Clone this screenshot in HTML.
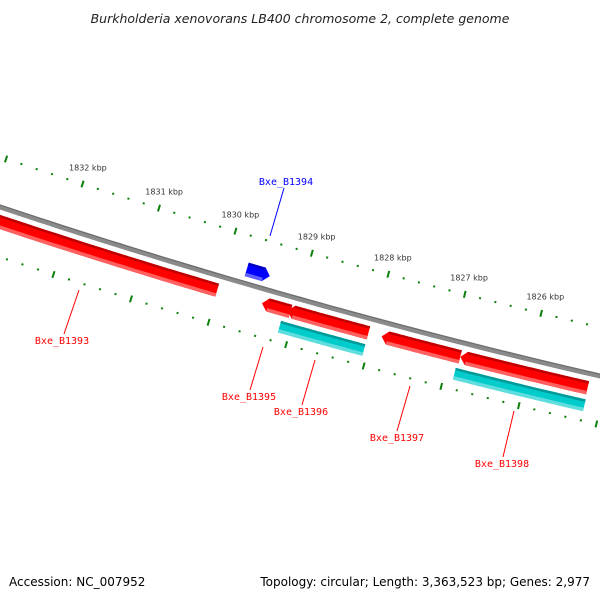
<!DOCTYPE html>
<html><head><meta charset="utf-8"><style>
body{margin:0;background:#fff}
svg{display:block}
</style></head><body>
<svg id="map" width="600" height="600" viewBox="0 0 600 600" xmlns="http://www.w3.org/2000/svg">
<rect x="0" y="0" width="600" height="600" fill="#fff"/>
<text x="300" y="23" text-anchor="middle" font-family="DejaVu Sans, Liberation Sans, sans-serif" font-style="italic" font-size="12.5" fill="#222">Burkholderia xenovorans LB400 chromosome 2, complete genome</text>
<g id="ticks"></g>
<g id="backbone"></g>
<g id="feats"></g>
<g id="labels"></g>
<text x="9" y="586" font-family="DejaVu Sans, Liberation Sans, sans-serif" font-size="12" fill="#000">Accession: NC_007952</text>
<text x="590" y="586" text-anchor="end" font-family="DejaVu Sans, Liberation Sans, sans-serif" font-size="12" fill="#000">Topology: circular; Length: 3,363,523 bp; Genes: 2,977</text>
</svg>
<script>
const tickLabels = [1832, 1831, 1830, 1829, 1828, 1827, 1826];
const featNames = ["Bxe_B1393","Bxe_B1394","Bxe_B1395","Bxe_B1396","Bxe_B1397","Bxe_B1398"];
const featStart = [1833.0, 1829.73, 1829.43, 1829.10, 1827.88, 1826.86];
const featEnd   = [1830.01, 1829.43, 1829.06, 1828.05, 1826.86, 1825.21];
const featStrand = [-1, 1, -1, -1, -1, -1];
const cdsNames = ["Bxe_B1396-cds","Bxe_B1398-cds"];
const cdsStart = [1829.14, 1826.88];
const cdsEnd   = [1828.05, 1825.20];
const labelPos = [[62,344,79,290,64,334],[286,185,284,188,270,236],[249,400,263,347,250,390],[301,415,315,360,302,405],[397,441,410,386,397,431],[502,467,514,411,503,457]];

const NS="http://www.w3.org/2000/svg";
function el(tag, attrs, parent){const e=document.createElementNS(NS,tag);for(const k in attrs)e.setAttribute(k,attrs[k]);parent.appendChild(e);return e;}
function sOf(kbp){return 68+(1832-kbp)*77;}
function yb(s){return 207+0.3331*s-8.56e-5*s*s;}
function pt(s,r){const d=0.3331-2*8.56e-5*s;const n=Math.hypot(d,1);return [s+r*(-d/n), yb(s)+r*(1/n)];}
function band(sA,sB,r1,r2){let a=[],b=[];const N=30;for(let i=0;i<=N;i++){const s=sA+(sB-sA)*i/N;a.push(pt(s,r1));b.unshift(pt(s,r2));}return a.concat(b).map(p=>p[0].toFixed(1)+","+p[1].toFixed(1)).join(" ");}

// ticks
const tg=document.getElementById('ticks');
for(let k=Math.round(1833.2*5);k>=Math.round(1825*5);k--){
  const kbp=k/5;const s=sOf(kbp);const major=(k%5===0);
  [-47.5,47.5].forEach(r=>{
    const L=major?3.5:1;
    const p1=pt(s,r-L),p2=pt(s,r+L);
    const t=el('line',{x1:p1[0],y1:p1[1],x2:p2[0],y2:p2[1],stroke:'#0b800b','stroke-width':2},tg);
    
    
  });
}
tickLabels.forEach(v=>{
  const p=pt(sOf(v),-65);
  const t=el('text',{x:p[0],y:p[1]+3,'text-anchor':'middle','font-family':'DejaVu Sans, Liberation Sans, sans-serif','font-size':8,fill:'#333'},tg);
  t.textContent=v+' kbp';
  
  
});

// backbone
const bg=document.getElementById('backbone');
let d="";for(let s=-10;s<=620;s+=10){const p=pt(s,0);d+=(s===-10?"M":"L")+p[0].toFixed(1)+","+p[1].toFixed(1);}
const bb=el('path',{d:d,stroke:'#8a8a8a','stroke-width':5,fill:'none'},bg);


let d2="";for(let s=-10;s<=620;s+=10){const p=pt(s,-1.8);d2+=(s===-10?"M":"L")+p[0].toFixed(1)+","+p[1].toFixed(1);}
el('path',{d:d2,stroke:'#6e6e6e','stroke-width':1.2,fill:'none'},bg);

// features
const fg=document.getElementById('feats');
function drawFeat(name,k1,k2,strand,r1,r2,cols,arrow){
  let sA=sOf(k1),sB=sOf(k2);if(sA>sB){const t=sA;sA=sB;sB=t;}
  const g=el('g',{},fg);
  
  
  const H=6;
  if(arrow){
    let a=[],b=[];const N=30;
    const bA=strand<0?sA+H:sA, bB=strand>0?sB-H:sB;
    for(let i=0;i<=N;i++){const s=bA+(bB-bA)*i/N;a.push(pt(s,r1));b.unshift(pt(s,r2));}
    let pts;
    if(strand<0){pts=[pt(sA,(r1+r2)/2)].concat(a).concat(b);}else{pts=a.concat([pt(sB,(r1+r2)/2)]).concat(b);}
    el('polygon',{points:pts.map(p=>p[0].toFixed(1)+","+p[1].toFixed(1)).join(" "),fill:cols[1]},g);
    el('polygon',{points:band(bA,bB,r1,r1+2.5),fill:cols[0]},g);
    el('polygon',{points:band(bA,bB,r2-3.5,r2),fill:cols[2]},g);
  } else {
    el('polygon',{points:band(sA,sB,r1,r2),fill:cols[1]},g);
    el('polygon',{points:band(sA,sB,r1,r1+2.5),fill:cols[0]},g);
    el('polygon',{points:band(sA,sB,r2-3.5,r2),fill:cols[2]},g);
  }
}
const red=['#c00000','#ff0000','#ff6060'], blue=['#0000c0','#0000ff','#6060ff'], cyan=['#009a9a','#00cccc','#60dede'];
for(let i=0;i<featNames.length;i++){
  if(featStrand[i]>0) drawFeat(featNames[i],featStart[i],featEnd[i],1,-21,-7,blue,true);
  else drawFeat(featNames[i],featStart[i],featEnd[i],-1,7.5,21,red,i!==0);
}
for(let i=0;i<cdsNames.length;i++) drawFeat(cdsNames[i],cdsStart[i],cdsEnd[i],-1,26,38,cyan,false);

// labels
const lg=document.getElementById('labels');
for(let i=0;i<featNames.length;i++){
  const c=featStrand[i]>0?'#0000ff':'#ff0000';const L=labelPos[i];
  const ln=el('line',{x1:L[2],y1:L[3],x2:L[4],y2:L[5],stroke:c,'stroke-width':1},lg);
  
  
  const t=el('text',{x:L[0],y:L[1],'text-anchor':'middle','font-family':'DejaVu Sans Mono, Liberation Mono, monospace','font-size':10,fill:c},lg);
  t.textContent=featNames[i];
  
  
}
</script>
</body></html>
